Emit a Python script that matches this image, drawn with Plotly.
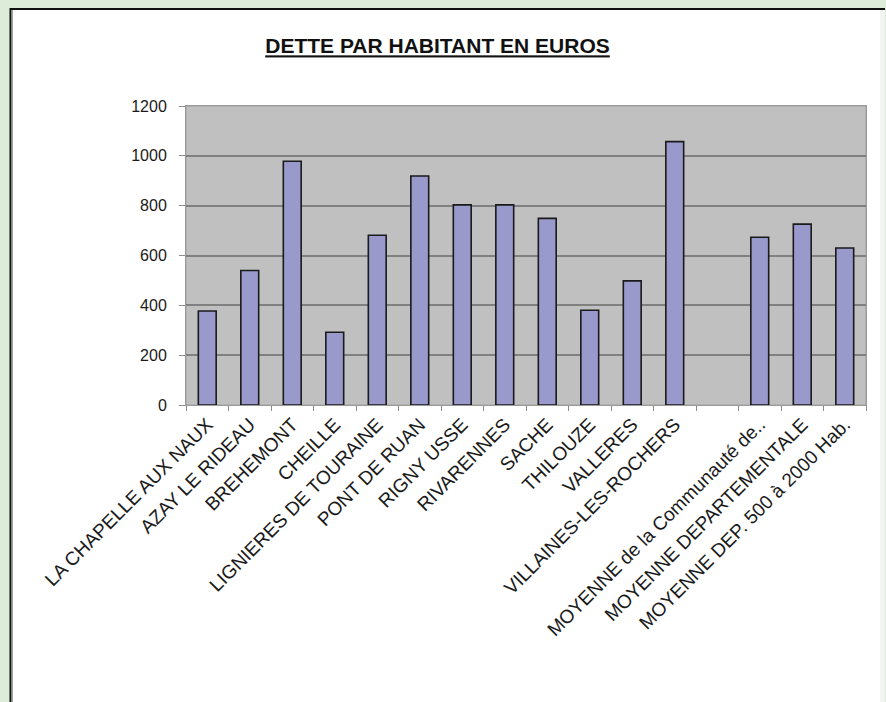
import plotly.graph_objects as go

# ---- data ----
communes = [
    "LA CHAPELLE AUX NAUX", "AZAY LE RIDEAU", "BREHEMONT", "CHEILLE",
    "LIGNIERES DE TOURAINE", "PONT DE RUAN", "RIGNY USSE", "RIVARENNES",
    "SACHE", "THILOUZE", "VALLERES", "VILLAINES-LES-ROCHERS", " ",
    "MOYENNE de la Communauté de..", "MOYENNE DEPARTEMENTALE",
    "MOYENNE DEP. 500 à 2000 Hab.",
]
dette = [377, 540, 978, 292, 681, 919, 803, 803, 749, 380, 498, 1057, None,
         673, 726, 630]
y_ticks = [0, 200, 400, 600, 800, 1000, 1200]
title_text = "DETTE PAR HABITANT EN EUROS"

# ---- layout geometry (pixels) ----
W, H = 886, 702
L, R, T, B = 186, 866, 106, 405


def px(x):
    return (x - L) / (R - L)


def py(y):
    return 1 - (y - T) / (B - T)


FONT = "Liberation Sans, Arial, sans-serif"

fig = go.Figure(
    go.Bar(
        x=communes,
        y=dette,
        marker=dict(color="#9999CC", line=dict(color="#1a1a1a", width=1.6)),
        hoverinfo="x+y",
    )
)

shapes = [
    # white panel
    dict(type="rect", xref="paper", yref="paper", x0=px(10), x1=px(885),
         y0=py(720), y1=py(8), fillcolor="white", line_width=0, layer="below"),
    # right light strip
    dict(type="rect", xref="paper", yref="paper", x0=px(880), x1=px(885),
         y0=py(720), y1=py(10), fillcolor="#f1f4f1", line_width=0, layer="below"),
    # top black border
    dict(type="line", xref="paper", yref="paper", x0=px(10), x1=px(885),
         y0=py(9), y1=py(9), line=dict(color="#111111", width=2), layer="below"),
    # left black border + shade
    dict(type="line", xref="paper", yref="paper", x0=px(10.5), x1=px(10.5),
         y0=py(8), y1=py(720), line=dict(color="#111111", width=2), layer="below"),
    dict(type="line", xref="paper", yref="paper", x0=px(12.2), x1=px(12.2),
         y0=py(10), y1=py(720), line=dict(color="#8a8a8a", width=1.2), layer="below"),
    # plot area gray
    dict(type="rect", xref="paper", yref="paper", x0=0, x1=1, y0=0, y1=1,
         fillcolor="#C0C0C0", line=dict(color="#a0a0a0", width=1), layer="below"),
]

fig.update_layout(
    width=W, height=H,
    margin=dict(l=L, r=W - R, t=T, b=H - B, pad=0),
    paper_bgcolor="#DDEBD9",
    plot_bgcolor="rgba(0,0,0,0)",
    showlegend=False,
    bargap=0.58,
    shapes=shapes,
    title=dict(
        text="<b>" + title_text + "</b>",
        x=437.5 / W, xref="container", xanchor="center",
        y=1 - 46 / H, yref="container", yanchor="middle",
        font=dict(family=FONT, size=21, color="#111111", lineposition="under"),
    ),
    font=dict(family=FONT, color="#1a1a1a"),
)

fig.update_xaxes(
    type="category",
    categoryorder="array", categoryarray=communes,
    tickson="boundaries",
    ticks="outside", ticklen=5, tickcolor="#8c8c8c", tickwidth=1,
    tickangle=-45,
    tickfont=dict(family=FONT, size=19, color="#1a1a1a"),
    showline=True, linecolor="#9a9a9a", linewidth=1, mirror=True,
    showgrid=False,
    range=[-0.5, len(communes) - 0.5],
)

fig.update_yaxes(
    range=[0, 1200],
    tickvals=y_ticks,
    ticktext=[str(v) for v in y_ticks],
    ticks="outside", ticklen=6, tickcolor="#8c8c8c", tickwidth=1,
    ticklabelstandoff=9,
    tickfont=dict(family=FONT, size=16, color="#1a1a1a"),
    showline=True, linecolor="#9a9a9a", linewidth=1, mirror=True,
    showgrid=True, gridcolor="#808080", gridwidth=1.6,
    zeroline=False,
)

fig.write_html(
    "out.html",
    config={"displayModeBar": False},
    post_script="document.body.style.margin='0';document.body.style.overflow='hidden';",
)
